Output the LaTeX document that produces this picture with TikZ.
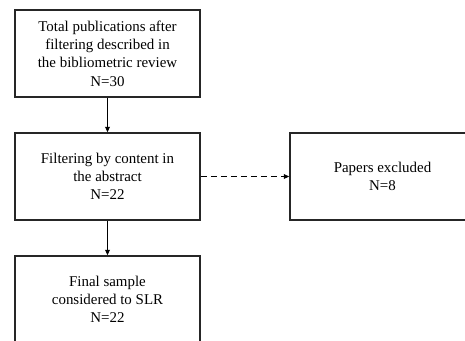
\documentclass[tikz,border=0pt]{standalone}
\usepackage{fontspec}
\setmainfont{Liberation Serif}
\usetikzlibrary{arrows.meta}
\begin{document}
\begin{tikzpicture}[x=0.75pt,y=-0.75pt,
  box/.style={draw=black!85, line width=1.2pt, fill=white, align=center,
    minimum width=185*0.75pt, minimum height=87*0.75pt, inner sep=0pt,
    font=\fontsize{11.2pt}{13.7pt}\selectfont},
  conn/.style={line width=0.9pt, -{Triangle[length=4pt,width=3.5pt]}}]
\useasboundingbox (0,0) rectangle (465,340);
\clip (0,0) rectangle (465,340);
\node[box] (total) at (107.5,53.5) {Total publications after\\filtering described in\\the bibliometric review\\N=30};
\node[box] (filter) at (107.5,176.5) {Filtering by content in\\the abstract\\N=22};
\node[box] (final) at (107.5,299.5) {Final sample\\considered to SLR\\N=22};
\node[box] (excl) at (382.5,176.5) {Papers excluded\\N=8};
\draw[conn] (total) -- (filter);
\draw[conn] (filter) -- (final);
\draw[conn, dashed, dash pattern=on 4.5pt off 3pt] (filter) -- (excl);
\end{tikzpicture}
\end{document}
